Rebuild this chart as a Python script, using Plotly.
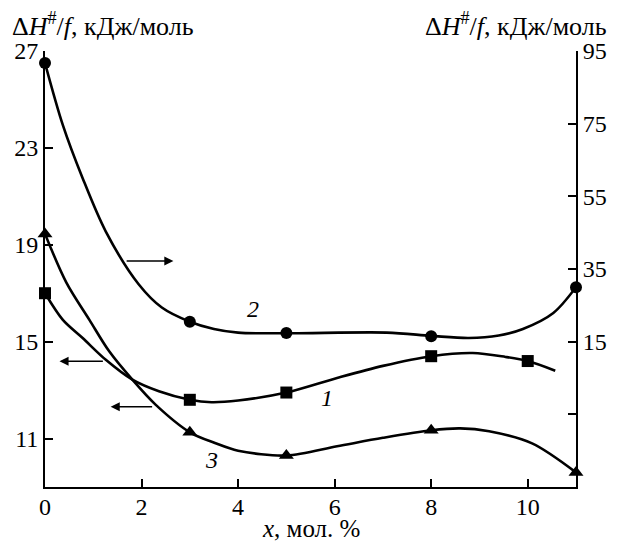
import plotly.graph_objects as go

# Marker (measured) points
x_pts_1 = [0, 3, 5, 8, 10]
y_pts_1 = [17.0, 12.6, 12.9, 14.4, 14.2]          # left axis
x_pts_2 = [0, 3, 5, 8, 11]
y_pts_2 = [91.7, 20.5, 17.4, 16.5, 30.0]          # right axis
x_pts_3 = [0, 3, 5, 8, 11]
y_pts_3 = [19.45, 11.26, 10.3, 11.34, 9.6]        # left axis

# Smooth curves
x_curve_1 = [0, 0.37, 0.78, 1.26, 1.81, 2.36, 3.0, 3.45, 4.0, 5.0, 6.05, 7.0, 8.0, 8.86, 9.54, 10.0, 10.57]
y_curve_1 = [17.0, 15.9, 15.15, 14.25, 13.43, 12.95, 12.6, 12.5, 12.57, 12.9, 13.5, 14.0, 14.4, 14.53, 14.37, 14.2, 13.8]
x_curve_2 = [0, 0.37, 0.78, 1.26, 1.94, 2.42, 3.0, 3.5, 4.0, 5.0, 7.08, 8.0, 8.78, 9.4, 9.9, 10.53, 11.0]
y_curve_2 = [91.7, 74.6, 60.0, 45.3, 30.8, 24.4, 20.5, 18.5, 17.5, 17.3, 17.5, 16.6, 16.0, 16.7, 18.5, 22.9, 30.0]
x_curve_3 = [0, 0.44, 0.92, 1.33, 1.81, 2.29, 3.0, 3.52, 4.0, 5.0, 6.05, 7.0, 8.0, 8.6, 9.2, 10.09, 11.0]
y_curve_3 = [19.45, 17.45, 15.9, 14.6, 13.43, 12.4, 11.26, 10.82, 10.5, 10.3, 10.68, 11.03, 11.34, 11.42, 11.3, 10.8, 9.6]

x_ticks = [0, 2, 4, 6, 8, 10]
y_left_ticks = [11, 15, 19, 23, 27]
y_right_ticks = [-5, 15, 35, 55, 75, 95]
y_right_text = ["", "15", "35", "55", "75", "95"]

FONT = "Liberation Serif, Times New Roman, serif"
FS_TICK = 24
FS_TITLE = 26

fig = go.Figure()

lw = 2.6
def curve(x, y, axis="y"):
    return go.Scatter(x=x, y=y, mode="lines", yaxis=axis,
                      line=dict(color="black", width=lw, shape="spline", smoothing=0.9),
                      showlegend=False, cliponaxis=False, hoverinfo="skip")

fig.add_trace(curve(x_curve_1, y_curve_1))
fig.add_trace(curve(x_curve_3, y_curve_3))
fig.add_trace(curve(x_curve_2, y_curve_2, "y2"))

fig.add_trace(go.Scatter(x=x_pts_1, y=y_pts_1, mode="markers",
                         marker=dict(symbol="square", size=12, color="black"),
                         showlegend=False, cliponaxis=False))
fig.add_trace(go.Scatter(x=x_pts_3, y=y_pts_3, mode="markers",
                         marker=dict(symbol="triangle-up", size=13, color="black"),
                         showlegend=False, cliponaxis=False))
fig.add_trace(go.Scatter(x=x_pts_2, y=y_pts_2, mode="markers", yaxis="y2",
                         marker=dict(symbol="circle", size=12, color="black"),
                         showlegend=False, cliponaxis=False))

axis_common = dict(showgrid=False, zeroline=False, showline=True, linecolor="black",
                   linewidth=1.8, ticks="inside", ticklen=8, tickwidth=1.5, tickcolor="black",
                   tickfont=dict(family=FONT, size=FS_TICK, color="black"))

fig.update_layout(
    width=619, height=545,
    margin=dict(l=45, r=36, t=51, b=58),
    paper_bgcolor="white", plot_bgcolor="white",
    xaxis=dict(range=[0, 11], tickvals=x_ticks, ticklabelstandoff=-3, **axis_common),
    yaxis=dict(range=[9, 27], tickvals=y_left_ticks, **axis_common),
    yaxis2=dict(range=[-25, 95], tickvals=y_right_ticks, ticktext=y_right_text,
                overlaying="y", side="right", **axis_common),
    font=dict(family=FONT, size=FS_TICK, color="black"),
)

ann = []
ann.append(dict(text="Δ<i>H</i><sup>#</sup>/<i>f</i>, кДж/моль", xref="paper", yref="paper",
                x=-35/538, y=1 + 27/436, xanchor="left", yanchor="middle", showarrow=False,
                font=dict(family=FONT, size=FS_TITLE)))
ann.append(dict(text="Δ<i>H</i><sup>#</sup>/<i>f</i>, кДж/моль", xref="paper", yref="paper",
                x=1 + 33/538, y=1 + 27/436, xanchor="right", yanchor="middle", showarrow=False,
                font=dict(family=FONT, size=FS_TITLE)))
ann.append(dict(text="<i>x</i>, мол. %", xref="paper", yref="paper",
                x=(314 - 45) / 538, y=-57/436, xanchor="center", yanchor="bottom", showarrow=False,
                font=dict(family=FONT, size=25)))
# curve labels
for t, xx, yy in [("2", 4.3, 16.35), ("1", 5.85, 12.68), ("3", 3.45, 10.12)]:
    ann.append(dict(text="<i>%s</i>" % t, x=xx, y=yy, xref="x", yref="y", showarrow=False,
                    font=dict(family=FONT, size=FS_TICK)))
# arrows (tail -> head)
for (x0, x1, yy) in [(1.66, 2.66, 18.33), (1.23, 0.30, 14.19), (2.25, 1.36, 12.31)]:
    ann.append(dict(x=x1, y=yy, ax=x0, ay=yy, xref="x", yref="y", axref="x", ayref="y",
                    text="", showarrow=True, arrowhead=2, arrowsize=1.3, arrowwidth=1.4,
                    arrowcolor="black"))
fig.update_layout(annotations=ann)

fig.write_html("out.html", config={"displayModeBar": False},
               post_script="document.body.style.margin='0';document.body.style.overflow='hidden';")
